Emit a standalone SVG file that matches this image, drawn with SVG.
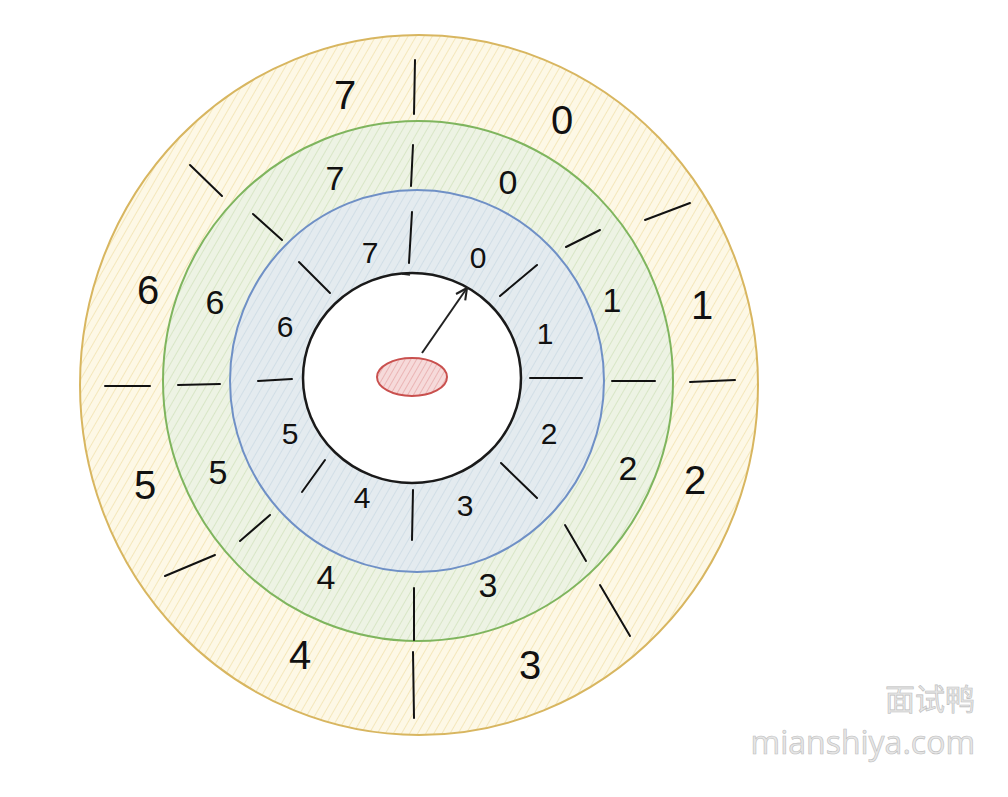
<svg xmlns="http://www.w3.org/2000/svg" width="1008" height="797" viewBox="0 0 1008 797">
<defs>
<pattern id="hy" width="7" height="7" patternUnits="userSpaceOnUse" patternTransform="rotate(30)">
<rect width="7" height="7" fill="#fdf8e6"/><line x1="0" y1="0" x2="0" y2="7" stroke="#f2e3b0" stroke-width="1.6"/></pattern>
<pattern id="hg" width="7" height="7" patternUnits="userSpaceOnUse" patternTransform="rotate(30)">
<rect width="7" height="7" fill="#edf3e4"/><line x1="0" y1="0" x2="0" y2="7" stroke="#d3e3bf" stroke-width="1.6"/></pattern>
<pattern id="hb" width="7" height="7" patternUnits="userSpaceOnUse" patternTransform="rotate(30)">
<rect width="7" height="7" fill="#e4ebef"/><line x1="0" y1="0" x2="0" y2="7" stroke="#ccdbe4" stroke-width="1.6"/></pattern>
<pattern id="hr" width="5" height="5" patternUnits="userSpaceOnUse" patternTransform="rotate(30)">
<rect width="5" height="5" fill="#f6dada"/><line x1="0" y1="0" x2="0" y2="5" stroke="#e6a6a6" stroke-width="1.4"/></pattern>
<marker id="ah" viewBox="0 0 10 10" refX="9" refY="5" markerWidth="7" markerHeight="7" orient="auto"><path d="M1 1 L9 5 L1 9" fill="none" stroke="#222" stroke-width="1.5"/></marker>
</defs>
<style>
.t{stroke:#111;stroke-width:2;stroke-linecap:round;fill:none}
.d{font-family:"Liberation Sans",sans-serif;fill:#111;text-anchor:middle;dominant-baseline:central;font-weight:300}
.y{font-size:40px}.g{font-size:34px}.b{font-size:30px}
</style>
<rect width="1008" height="797" fill="#fff"/>
<g id="ring-yellow">
<ellipse cx="419" cy="385" rx="339" ry="350" fill="url(#hy)" stroke="#d8b660" stroke-width="2"/>
</g>
<g id="ring-green">
<ellipse cx="418" cy="381" rx="255" ry="260" fill="url(#hg)" stroke="#7fb55e" stroke-width="2"/>
</g>
<g id="ring-blue">
<ellipse cx="417" cy="381" rx="187" ry="191" fill="url(#hb)" stroke="#6f90c6" stroke-width="2"/>
</g>
<g id="core">
<ellipse cx="412" cy="378" rx="109" ry="105" fill="#fff" stroke="#1a1a1a" stroke-width="2.5"/>
</g>
<g id="center-dot">
<ellipse cx="412" cy="377" rx="35" ry="19" fill="url(#hr)" stroke="#c9504e" stroke-width="2"/>
</g>
<g id="ticks-yellow" class="t">
<path class="t" d="M415 60 L414 114"/><path class="t" d="M190 165 L222 196"/><path class="t" d="M645 220 L690 203"/>
<path class="t" d="M105 386 L150 386"/><path class="t" d="M690 382 L735 380"/><path class="t" d="M215 555 L165 576"/>
<path class="t" d="M600 585 L630 636"/><path class="t" d="M413 652 L414 718"/>
</g>
<g id="ticks-green">
<path class="t" d="M413 145 L411 186"/><path class="t" d="M253 214 L282 240"/><path class="t" d="M600 230 L566 247"/>
<path class="t" d="M178 385 L220 384"/><path class="t" d="M612 381 L655 381"/><path class="t" d="M270 515 L240 541"/>
<path class="t" d="M565 525 L586 561"/><path class="t" d="M414 588 L414 640"/>
</g>
<g id="ticks-blue">
<path class="t" d="M412 212 L409 263"/><path class="t" d="M299 262 L330 293"/><path class="t" d="M537 265 L500 296"/>
<path class="t" d="M258 381 L292 379"/><path class="t" d="M530 378 L582 378"/><path class="t" d="M325 460 L302 492"/>
<path class="t" d="M501 463 L537 498"/><path class="t" d="M413 490 L412 540"/>
</g>
<g id="labels-yellow">
<text class="d y" x="345" y="95">7</text><text class="d y" x="562" y="120">0</text><text class="d y" x="702" y="305">1</text>
<text class="d y" x="695" y="480">2</text><text class="d y" x="530" y="665">3</text><text class="d y" x="300" y="655">4</text>
<text class="d y" x="145" y="485">5</text><text class="d y" x="148" y="290">6</text>
</g>
<g id="labels-green">
<text class="d g" x="335" y="178">7</text><text class="d g" x="508" y="182">0</text><text class="d g" x="612" y="300">1</text>
<text class="d g" x="628" y="468">2</text><text class="d g" x="488" y="585">3</text><text class="d g" x="326" y="577">4</text>
<text class="d g" x="218" y="472">5</text><text class="d g" x="215" y="302">6</text>
</g>
<g id="labels-blue">
<text class="d b" x="370" y="252">7</text><text class="d b" x="478" y="257">0</text><text class="d b" x="545" y="333">1</text>
<text class="d b" x="549" y="433">2</text><text class="d b" x="465" y="505">3</text><text class="d b" x="362" y="497">4</text>
<text class="d b" x="290" y="433">5</text><text class="d b" x="285" y="326">6</text>
</g>
<g id="connectors">
<path d="M422 353 L467 288" stroke="#222" stroke-width="2" fill="none" marker-end="url(#ah)"/>
<path d="M410 275 L402 274" stroke="#222" stroke-width="1.5" fill="none"/>
</g>
<g id="watermark" font-family="'Noto Sans CJK SC',sans-serif" fill="#e6e6e6" stroke="#bdbdbd" stroke-width="0.6" text-anchor="end">
<text x="975" y="710" font-size="30">面试鸭</text>
<text x="975" y="754" font-size="32" font-family="'Open Sans','Noto Sans',sans-serif">mianshiya.com</text>
</g>
</svg>
